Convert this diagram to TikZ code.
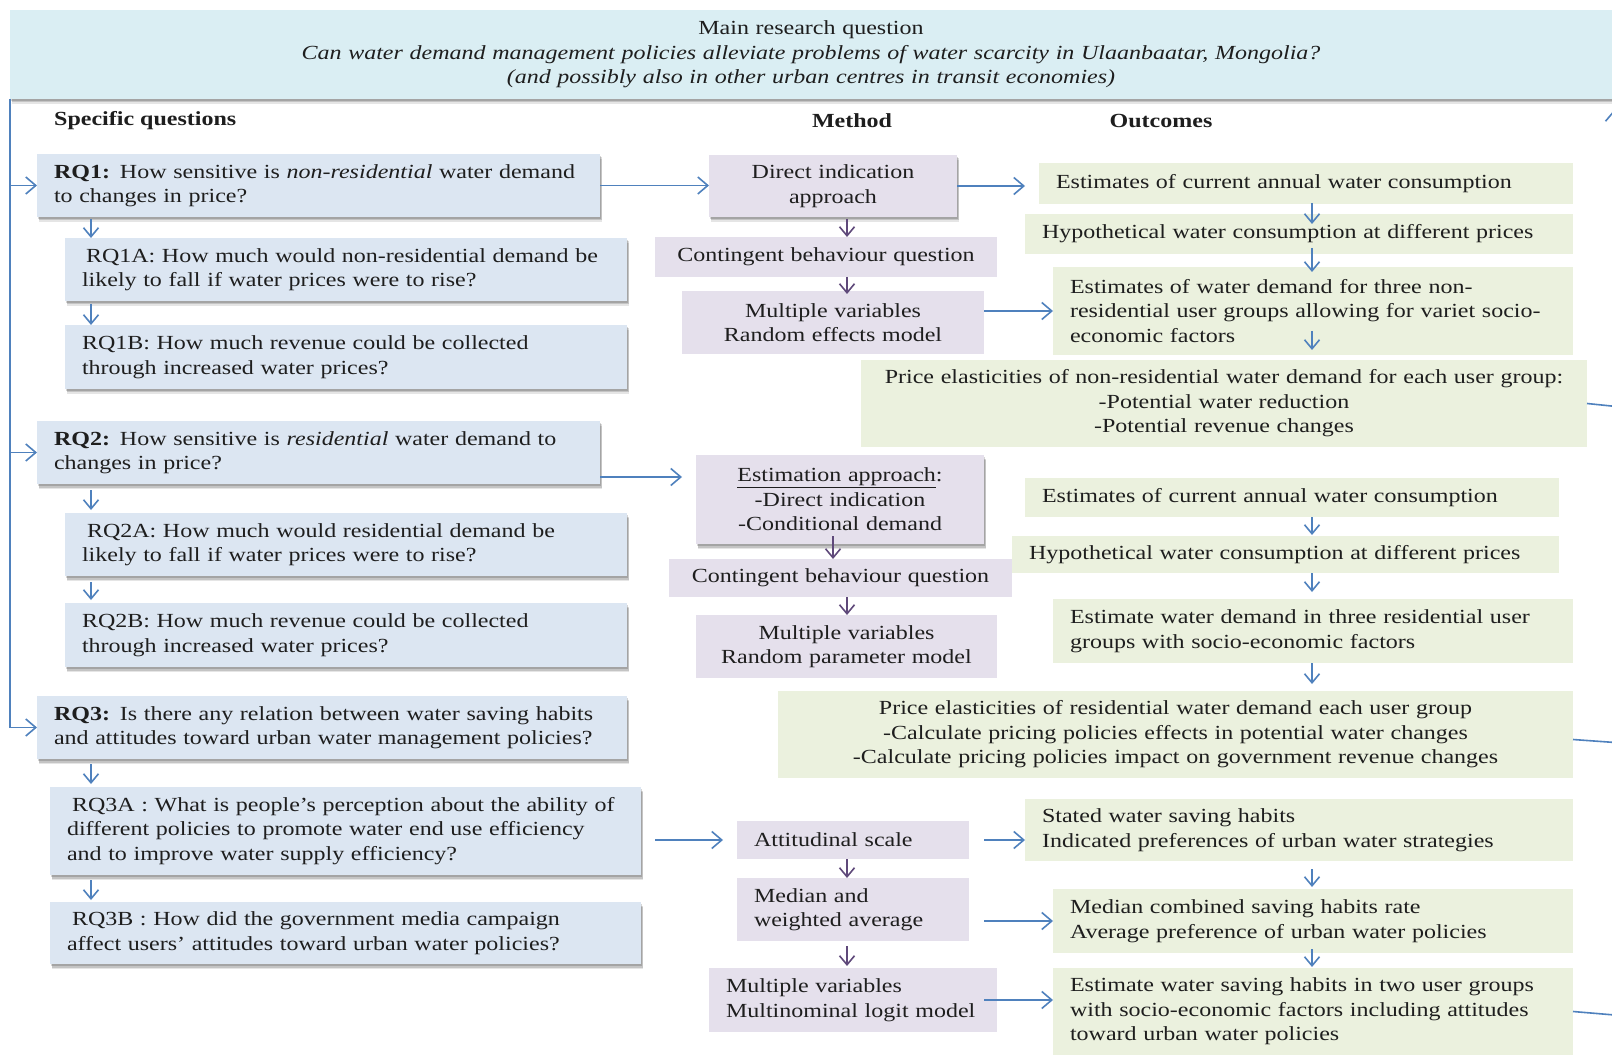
\documentclass[tikz,border=0pt]{standalone}
\usepackage{fontspec}
\setmainfont{Liberation Serif}[FakeStretch=1.2]
\usetikzlibrary{arrows.meta,calc,shadows}

\definecolor{hdrfill}{HTML}{DAEEF3}
\definecolor{qfill}{HTML}{DCE6F2}
\definecolor{mfill}{HTML}{E5E0EC}
\definecolor{ofill}{HTML}{EBF1DE}
\definecolor{flowblue}{HTML}{4F81BD}
\definecolor{flowpurple}{HTML}{5F497A}
\definecolor{ink}{HTML}{1E1E1E}

\tikzset{
  base/.style={rectangle, inner xsep=17pt, inner ysep=2pt, outer sep=0pt,
    text=ink, font=\fontsize{20}{24.5}\selectfont},
  shade box/.style={
    drop shadow={shadow xshift=2pt, shadow yshift=-5pt, fill=black, opacity=0.10},
    drop shadow={shadow xshift=1.5pt, shadow yshift=-3.5pt, fill=black, opacity=0.14},
    drop shadow={shadow xshift=1pt, shadow yshift=-2pt, fill=black, opacity=0.16}},
  hbox/.style={base, fill=hdrfill, align=center, shade box},
  qbox/.style={base, fill=qfill, align=left, shade box},
  mbox/.style={base, fill=mfill, align=center},
  mboxl/.style={base, fill=mfill, align=left},
  obox/.style={base, fill=ofill, align=left},
  oboxc/.style={base, fill=ofill, align=center},
  head/.style={font=\bfseries\fontsize{20}{24}\selectfont, text=ink, inner sep=0pt},
  barr/.style={draw=flowblue, line width=1.6pt, -{Straight Barb[length=10pt,width=17pt]}},
  darr/.style={draw=flowblue, line width=1.6pt, -{Straight Barb[length=9pt,width=15pt]}},
  parr/.style={draw=flowpurple, line width=1.6pt, -{Straight Barb[length=9pt,width=15pt]}},
  bline/.style={draw=flowblue, line width=1.6pt},
}

% box from corner (x1,y1) to corner (x2,y2): name, style, x1, y1, x2, y2, text
\newcommand\boxnode[7]{%
  \pgfmathsetmacro\bxw{#5-#3}%
  \pgfmathsetmacro\bxh{#6-#4}%
  \pgfmathsetmacro\bxt{#5-#3-34}%
  \node[#2, anchor=north west, minimum width=\bxw pt, minimum height=\bxh pt,
        text width=\bxt pt] (#1) at (#3,#4) {#7};%
}

\begin{document}
\begin{tikzpicture}[x=1pt,y=-1pt]
\useasboundingbox (0,0) rectangle (1612,1056);
\fill[white] (0,0) rectangle (1612,1056);

% main question
\boxnode{hdr}{hbox}{10}{10}{1612}{99}{Main research question\\
  \textit{Can water demand management policies alleviate problems of water scarcity in Ulaanbaatar, Mongolia?}\\
  \textit{(and possibly also in other urban centres in transit economies)}}

% column headings
\node[head, anchor=west] (hq) at (54,121) {Specific questions};
\node[head] (hm) at (852,121) {Method};
\node[head] (ho) at (1161,121) {Outcomes};

% specific questions
\boxnode{rq1}{qbox}{37}{154}{600}{217}{\textbf{RQ1:} How sensitive is \textit{non-residential} water demand\\to changes in price?}
\boxnode{rq1a}{qbox}{65}{238}{627}{301}{\hspace*{4pt}RQ1A: How much would non-residential demand be\\likely to fall if water prices were to rise?}
\boxnode{rq1b}{qbox}{65}{325}{627}{389}{RQ1B: How much revenue could be collected\\through increased water prices?}
\boxnode{rq2}{qbox}{37}{421}{600}{484}{\textbf{RQ2:} How sensitive is \textit{residential} water demand to\\changes in price?}
\boxnode{rq2a}{qbox}{65}{513}{627}{576}{\hspace*{5pt}RQ2A: How much would residential demand be\\likely to fall if water prices were to rise?}
\boxnode{rq2b}{qbox}{65}{603}{627}{667}{RQ2B: How much revenue could be collected\\through increased water prices?}
\boxnode{rq3}{qbox}{37}{696}{627}{759}{\textbf{RQ3:} Is there any relation between water saving habits\\and attitudes toward urban water management policies?}
\boxnode{rq3a}{qbox}{50}{787}{641}{875}{\hspace*{5pt}RQ3A : What is people’s perception about the ability of\\different policies to promote water end use efficiency\\and to improve water supply efficiency?}
\boxnode{rq3b}{qbox}{50}{902}{641}{964}{\hspace*{5pt}RQ3B : How did the government media campaign\\affect users’ attitudes toward urban water policies?}

% methods
\boxnode{dir}{mbox, shade box}{709}{155}{957}{217}{Direct indication\\approach}
\boxnode{cb1}{mbox}{655}{237}{997}{277}{Contingent behaviour question}
\boxnode{mv1}{mbox}{682}{291}{984}{354}{Multiple variables\\Random effects model}
\boxnode{est}{mbox, shade box}{696}{455}{984}{544}{\underline{Estimation approach}:\\-Direct indication\\-Conditional demand}
\boxnode{cb2}{mbox}{669}{559}{1012}{597}{Contingent behaviour question}
\boxnode{mv2}{mbox}{696}{615}{997}{678}{Multiple variables\\Random parameter model}
\boxnode{att}{mboxl}{737}{821}{969}{859}{Attitudinal scale}
\boxnode{med}{mboxl}{737}{878}{969}{941}{Median and\\weighted average}
\boxnode{mnl}{mboxl}{709}{968}{997}{1032}{Multiple variables\\Multinominal logit model}

% outcomes
\boxnode{o1}{obox}{1039}{163}{1573}{204}{Estimates of current annual water consumption}
\boxnode{o2}{obox}{1025}{214}{1573}{254}{Hypothetical water consumption at different prices}
\boxnode{o3}{obox}{1053}{267}{1573}{355}{Estimates of water demand for three non-\\residential user groups allowing for variet socio-\\economic factors}
\boxnode{p1}{oboxc}{861}{360}{1587}{447}{Price elasticities of non-residential water demand for each user group:\\-Potential water reduction\\-Potential revenue changes}
\boxnode{o4}{obox}{1025}{478}{1559}{517}{Estimates of current annual water consumption}
\boxnode{o5}{obox}{1012}{536}{1559}{573}{Hypothetical water consumption at different prices}
\boxnode{o6}{obox}{1053}{599}{1573}{663}{Estimate water demand in three residential user\\groups with socio-economic factors}
\boxnode{p2}{oboxc}{778}{691}{1573}{778}{Price elasticities of residential water demand each user group\\-Calculate pricing policies effects in potential water changes\\-Calculate pricing policies impact on government revenue changes}
\boxnode{o7}{obox}{1025}{799}{1573}{861}{Stated water saving habits\\Indicated preferences of urban water strategies}
\boxnode{o8}{obox}{1053}{889}{1573}{953}{Median combined saving habits rate\\Average preference of urban water policies}
\boxnode{o9}{obox}{1053}{968}{1573}{1055}{Estimate water saving habits in two user groups\\with socio-economic factors including attitudes\\toward urban water policies}

% guide columns for the vertical arrows
\coordinate (lx) at (10,0);
\coordinate (dx) at (91,0);
\coordinate (mx) at (847,0);
\coordinate (mx2) at (833,0);
\coordinate (ox) at (1312,0);

% main question feeding the specific questions
\draw[barr] (hdr.south -| lx) |- (rq3.west);
\draw[barr] (lx |- rq1.west) -- (rq1.west);
\draw[barr] (lx |- rq2.west) -- (rq2.west);

% sub-question arrows
\draw[darr, shorten <=2pt] (rq1.south -| dx) -- (rq1a.north -| dx);
\draw[darr, shorten <=3pt] (rq1a.south -| dx) -- (rq1b.north -| dx);
\draw[darr, shorten <=6pt, shorten >=3pt] (rq2.south -| dx) -- (rq2a.north -| dx);
\draw[darr, shorten <=6pt, shorten >=3pt] (rq2a.south -| dx) -- (rq2b.north -| dx);
\draw[darr, shorten <=5pt, shorten >=3pt] (rq3.south -| dx) -- (rq3a.north -| dx);
\draw[darr, shorten <=5pt, shorten >=2pt] (rq3a.south -| dx) -- (rq3b.north -| dx);

% questions to methods
\draw[barr] (rq1.east) -- (rq1.east -| dir.west);
\coordinate (a2) at (682,477);
\draw[barr] (rq2.east |- a2) -- (a2);
\draw[barr, shorten <=14pt, shorten >=14pt] (rq3a.east |- att.west) -- (att.west);

% method chains
\draw[parr, shorten <=2pt] (dir.south -| mx) -- (cb1.north -| mx);
\draw[parr, shorten >=-3pt] (cb1.south -| mx) -- (mv1.north -| mx);
\draw[parr, shorten <=-8pt] (est.south -| mx2) -- (cb2.north -| mx2);
\draw[parr] (cb2.south -| mx) -- (mv2.north -| mx);
\draw[parr] (att.south -| mx) -- (med.north -| mx);
\draw[parr, shorten <=5pt, shorten >=2pt] (med.south -| mx) -- (mnl.north -| mx);

% methods to outcomes
\draw[barr, shorten >=14pt] (dir.east) -- (dir.east -| o1.west);
\draw[barr] (mv1.east |- o3.west) -- (o3.west);
\draw[barr, shorten <=15pt] (att.east) -- (att.east -| o7.west);
\draw[barr, shorten <=15pt] (med.east |- o8.west) -- (o8.west);
\draw[barr, shorten <=-13pt] (mnl.east) -- (mnl.east -| o9.west);

% outcome chains
\draw[darr, shorten <=-1pt, shorten >=-10pt] (o1.south -| ox) -- (o2.north -| ox);
\draw[darr, shorten <=-6pt, shorten >=-5pt] (o2.south -| ox) -- (o3.north -| ox);
\draw[darr, shorten >=10pt] ($(o3.south -| ox)+(0,-24)$) -- (p1.north -| ox);
\draw[darr, shorten >=1pt] (o4.south -| ox) -- (o5.north -| ox);
\draw[darr, shorten >=7pt] (o5.south -| ox) -- (o6.north -| ox);
\draw[darr, shorten >=7pt] (o6.south -| ox) -- (p2.north -| ox);
\draw[darr, shorten <=8pt, shorten >=2pt] (o7.south -| ox) -- (o8.north -| ox);
\draw[darr, shorten <=-4pt, shorten >=1pt] (o8.south -| ox) -- (o9.north -| ox);

% links leaving on the right, back up to the main question
\coordinate (r1) at (1650,410);
\coordinate (r2) at (1650,745);
\coordinate (r3) at (1650,1018);
\coordinate (rt) at (1614,110);
\coordinate (rb) at (1614,400);
\draw[bline] (p1.east) -- (r1);
\draw[bline] ($(p2.east)+(0,5)$) -- (r2);
\draw[bline] (o9.east) -- (r3);
\draw[barr] (rb) -- (rt);
\end{tikzpicture}
\end{document}
